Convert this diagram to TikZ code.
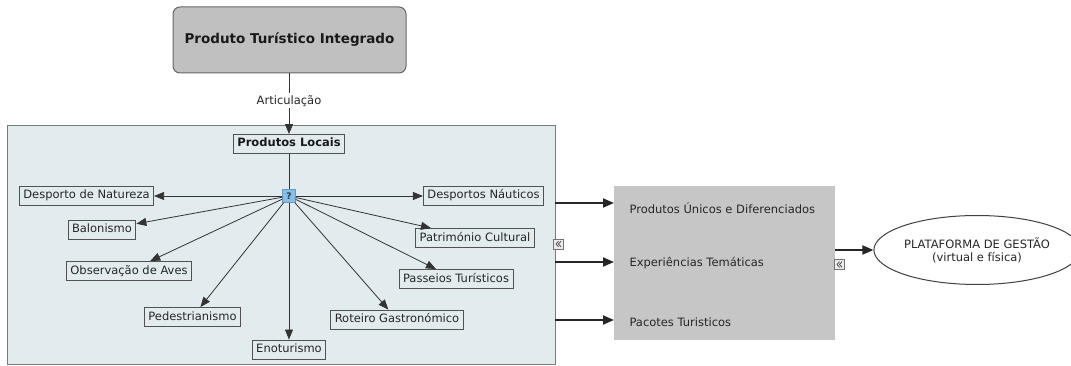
\documentclass[tikz,border=0pt]{standalone}
\usepackage{fontspec}
\setmainfont{DejaVu Sans}
\usetikzlibrary{arrows.meta,shapes.geometric}
\definecolor{panelbg}{HTML}{E2ECEE}
\definecolor{panelbd}{HTML}{7A7A7A}
\definecolor{topbg}{HTML}{C0C0C0}
\definecolor{graybg}{HTML}{C6C6C6}
\definecolor{qbg}{HTML}{84BEEA}
\definecolor{linec}{HTML}{333333}
\definecolor{textc}{HTML}{262626}
\begin{document}
\begin{tikzpicture}[x=1pt,y=-1pt,
  lbl/.style={font=\fontsize{11.5}{13}\selectfont, text=textc},
  cbox/.style={lbl, draw=linec!85, line width=0.9pt, inner xsep=4pt, inner ysep=0pt,
    minimum height=19pt, text height=8.5pt, text depth=2.5pt},
  conn/.style={draw=linec, line width=0.8pt, -{Triangle[length=10pt,width=8pt]}},
  thickconn/.style={draw=black!85, line width=1.8pt, -{Triangle[length=11pt,width=9pt]}},
  iconbox/.style={draw=black!55, line width=0.8pt, fill=white!85!gray, inner sep=0pt,
    minimum width=10pt, minimum height=10pt},
  chev/.style={draw=black!75, line width=0.7pt}
]
\useasboundingbox (0,0) rectangle (1071,366);
\fill[white] (0,0) rectangle (1071,366);

% panel
\node[draw=panelbd, fill=panelbg, line width=1pt, anchor=north west,
  minimum width=548pt, minimum height=239pt, inner sep=0pt] (panel) at (7,125) {};

% top box
\node[draw=black!60, fill=topbg, line width=1pt, rounded corners=7pt,
  minimum width=233pt, minimum height=66pt,
  font=\fontsize{13.5}{15}\selectfont\bfseries, text=black!90] (top) at (289.5,40) {Produto Turístico Integrado};

% Produtos Locais
\node[cbox, font=\fontsize{11.5}{13}\selectfont\bfseries, text=black!90] (pl) at (289,144) {Produtos Locais};

% question node
\node[fill=qbg, draw=qbg!80!black, line width=0.5pt, minimum width=13pt, minimum height=13pt, inner sep=0pt,
  font=\fontsize{9}{9}\selectfont\bfseries, text=black!80] (q) at (289,196) {?};

% leaf nodes
\node[cbox] (dn) at (86.5,196) {Desporto de Natureza};
\node[cbox] (ba) at (102,230) {Balonismo};
\node[cbox] (oa) at (129,271) {Observação de Aves};
\node[cbox] (pe) at (192.5,317) {Pedestrianismo};
\node[cbox] (en) at (289,349.5) {Enoturismo};
\node[cbox] (rg) at (397,319.5) {Roteiro Gastronómico};
\node[cbox] (pt) at (456,279) {Passeios Turísticos};
\node[cbox] (pc) at (475,238) {Património Cultural};
\node[cbox] (na) at (483.5,196) {Desportos Náuticos};

% connections top
\draw[conn] (top.south -| pl) -- node[pos=0.45, lbl, fill=white, inner sep=2pt] {Articulação} (pl);
\draw[draw=linec, line width=0.8pt] (pl) -- (q);
\foreach \t in {dn,ba,oa,pe,en,rg,pt,pc,na}{
  \draw[conn] (q) -- (\t);
}

% gray box
\node[fill=graybg, anchor=north west, minimum width=221pt, minimum height=154pt, inner sep=0pt] (gb) at (614,186) {};
\node[lbl, anchor=west] (g1) at (626,208) {Produtos Únicos e Diferenciados};
\node[lbl, anchor=west] (g2) at (626,263) {Experiências Temáticas};
\node[lbl, anchor=west] (g3) at (626,322) {Pacotes Turisticos};

\coordinate (s1) at (555,203);
\coordinate (s2) at (555,262);
\coordinate (s3) at (555,320);
\draw[thickconn] (s1) -- (gb.west |- s1);
\draw[thickconn] (s2) -- (gb.west |- s2);
\draw[thickconn] (s3) -- (gb.west |- s3);

% ellipse
\node[ellipse, draw=black!75, line width=1pt, fill=white, minimum width=183pt, minimum height=69pt,
  inner sep=0pt, align=center, lbl, text=black!85] (pg) at (977,250)
  {PLATAFORMA DE GESTÃO\\(virtual e física)};
\coordinate (s4) at (835,250);
\draw[thickconn] (s4) -- (pg.west);

% icons
\foreach \ic/\pos in {ic1/{(558,244)}, ic2/{(839,264.5)}}{
  \node[iconbox] (\ic) at \pos {};
  \draw[chev] ([shift={(0.5,-2.8)}]\ic.center) -- ([shift={(-2,0)}]\ic.center) -- ([shift={(0.5,2.8)}]\ic.center);
  \draw[chev] ([shift={(3,-2.8)}]\ic.center) -- ([shift={(0.5,0)}]\ic.center) -- ([shift={(3,2.8)}]\ic.center);
}
\end{tikzpicture}
\end{document}
